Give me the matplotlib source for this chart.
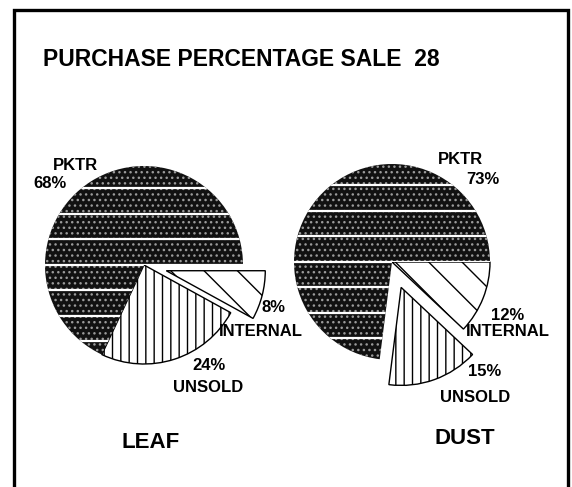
#!/usr/bin/env python3
"""Scanned pie pair: purchase percentage for sale 28, leaf vs dust."""

import numpy as np
import matplotlib.pyplot as plt

categories = ["INTERNAL", "UNSOLD", "PKTR"]
leaf_pct = [8, 24, 68]
dust_pct = [12, 15, 73]
grade_names = ["LEAF", "DUST"]
title = "PURCHASE PERCENTAGE SALE  28"

W, H = 572, 487
FONT = "Liberation Sans"


def draw_pie(ax, values, center, radius, explode_px):
    # pie() takes explode in data units, here pixels
    wedges, _ = ax.pie(values, center=center, radius=radius, startangle=0,
                       counterclock=True, explode=explode_px, frame=True,
                       wedgeprops=dict(linewidth=1.0))
    internal, unsold, pktr = wedges
    internal.set(facecolor="white", edgecolor="black", hatch="\\")
    unsold.set(facecolor="white", edgecolor="black", hatch="||")
    pktr.set(facecolor="#111111", edgecolor="#9a9a9a", hatch="...", linewidth=0)
    # white horizontal streaks across the dark slice
    cx, cy = center
    for yy in np.arange(cy - 77, cy + 80, 25.5):
        ln, = ax.plot([cx - radius, cx + radius], [yy, yy], color="white", lw=1.6)
        ln.set_clip_path(pktr)
    return wedges


def main():
    fig = plt.figure(figsize=(W / 100, H / 100), dpi=100)
    ax = fig.add_axes([0, 0, 1, 1])

    draw_pie(ax, leaf_pct, (144, 265), 99, [23, 0, 0])
    draw_pie(ax, dust_pct, (392, 262), 98, [0, 27, 0])

    ax.set_xlim(0, W)
    ax.set_ylim(H, 0)
    ax.set_aspect("equal")
    ax.axis("off")

    # frame of the scanned page
    ax.plot([14, 14, 568, 568], [H, 10, 10, H], color="black", lw=2.4,
            solid_joinstyle="miter")

    ax.text(43, 59, title, fontsize=16.5, fontweight="bold", family=FONT,
            ha="left", va="center")

    txt = dict(fontsize=12, fontweight="bold", family=FONT, ha="center", va="center")
    # leaf labels
    ax.text(75, 166, categories[2], **txt)
    ax.text(50, 184, f"{leaf_pct[2]}%", **txt)
    ax.text(274, 308, f"{leaf_pct[0]}%", **txt)
    ax.text(261, 331, categories[0], **txt)
    ax.text(209, 365, f"{leaf_pct[1]}%", **txt)
    ax.text(208, 388, categories[1], **txt)
    # dust labels
    ax.text(460, 160, categories[2], **txt)
    ax.text(483, 180, f"{dust_pct[2]}%", **txt)
    ax.text(508, 315, f"{dust_pct[0]}%", **txt)
    ax.text(508, 331, categories[0], **txt)
    ax.text(485, 371, f"{dust_pct[1]}%", **txt)
    ax.text(475, 398, categories[1], **txt)

    big = dict(fontsize=16, fontweight="bold", family=FONT, ha="center", va="center")
    ax.text(151, 443, grade_names[0], **big)
    ax.text(465, 438, grade_names[1], **big)

    fig.savefig("out.png", dpi=100)
    plt.close(fig)


if __name__ == "__main__":
    main()
